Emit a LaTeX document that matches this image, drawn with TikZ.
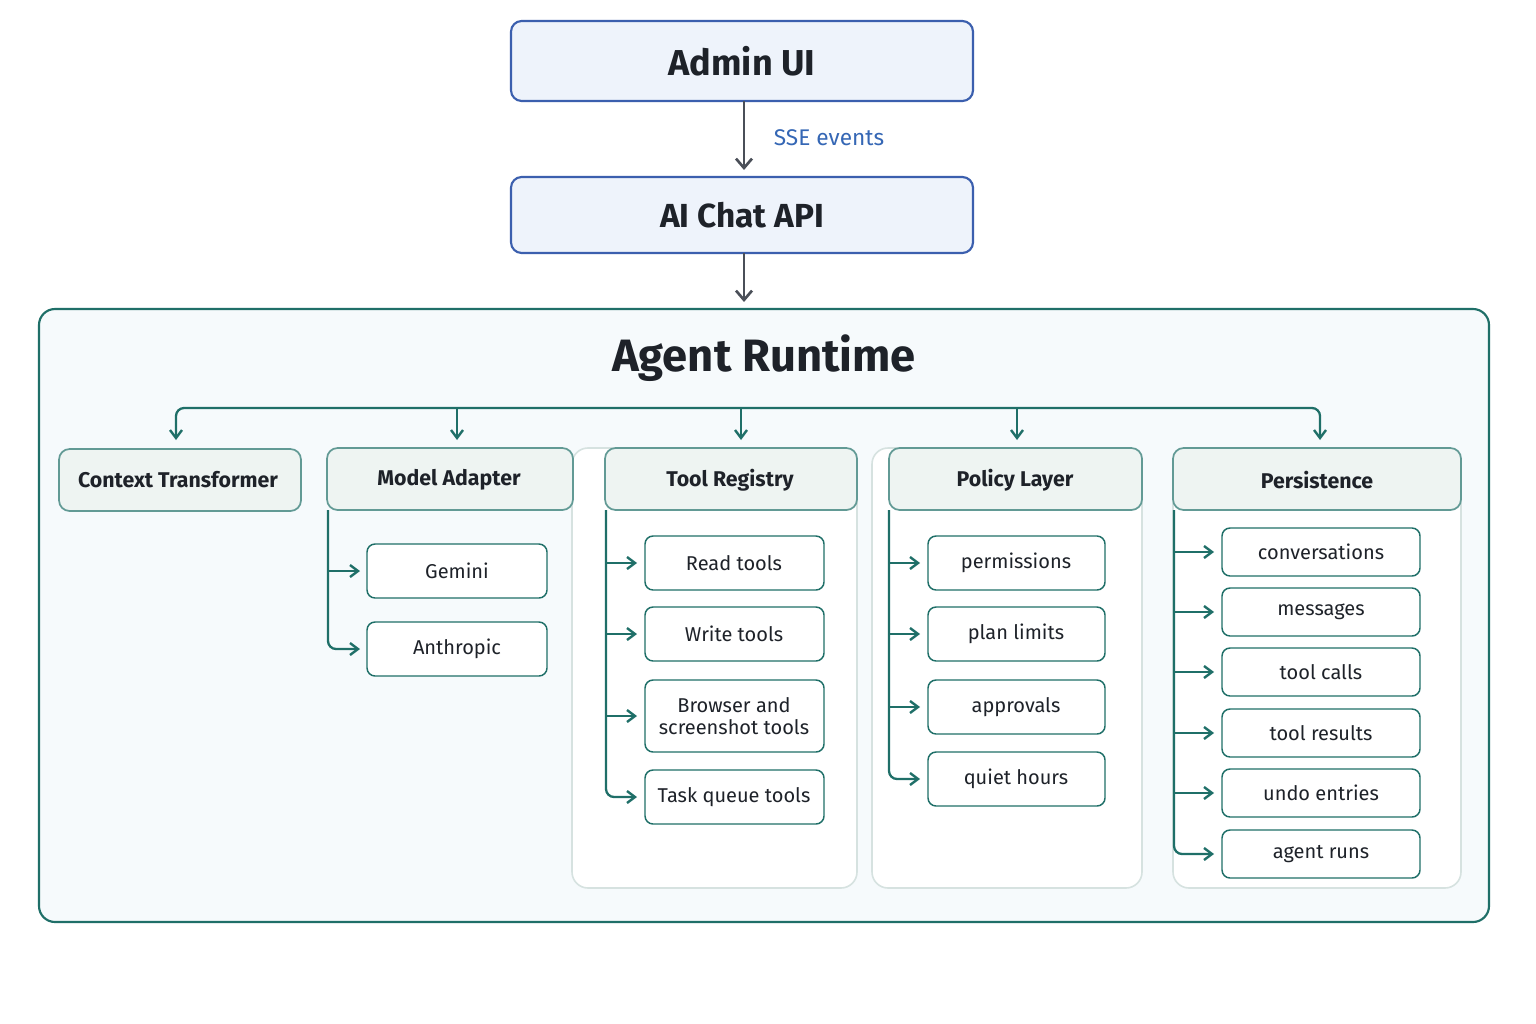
\documentclass[tikz,border=0pt]{standalone}
\usepackage{fontspec}
\setmainfont{Fira Sans}
\usetikzlibrary{arrows.meta}
\definecolor{teal}{HTML}{1F6F68}
\definecolor{hdr}{HTML}{EEF4F2}
\definecolor{outerfill}{HTML}{F6FAFC}
\definecolor{topfill}{HTML}{EEF3FB}
\definecolor{topline}{HTML}{3B5FAE}
\definecolor{darkarrow}{HTML}{4A4F58}
\definecolor{sse}{HTML}{3567B5}
\definecolor{panel}{HTML}{D6E2E0}
\definecolor{ink}{HTML}{1E2229}
\begin{document}
\begin{tikzpicture}[x=0.75pt,y=-0.75pt,
  topbox/.style={draw=topline,line width=1.6pt,fill=topfill,rounded corners=8pt},
  hbox/.style={draw=teal!70,line width=1.3pt,fill=hdr,rounded corners=8pt},
  item/.style={draw=teal,line width=1.1pt,fill=white,rounded corners=6pt},
  panelbox/.style={draw=panel,line width=1.2pt,fill=white,rounded corners=12pt},
  tip/.style={-{Straight Barb[length=6pt,width=9pt,line width=1.8pt]}},
  tarr/.style={draw=teal,line width=1.7pt,tip},
  darr/.style={draw=darkarrow,line width=1.8pt,-{Straight Barb[length=7pt,width=12pt,line width=2pt]}},
  tline/.style={draw=teal,line width=1.7pt,rounded corners=6pt,tip},
  itxt/.style={font=\fontsize{15}{17}\selectfont,text=ink,align=center},
  htxt/.style={font=\fontsize{16}{18}\selectfont\bfseries,text=ink}]
\useasboundingbox (0,0) rectangle (1536,1024);
\fill[white] (0,0) rectangle (1536,1024);
% top boxes
\draw[topbox] (511,21) rectangle (973,101);
\node[font=\fontsize{27}{30}\selectfont\bfseries,text=ink] (admin) at (742,61) {Admin UI};
\draw[topbox] (511,177) rectangle (973,253);
\node[font=\fontsize{25}{28}\selectfont\bfseries,text=ink] (api) at (742,215) {AI Chat API};
\coordinate (a1) at (744,101); \coordinate (a2) at (744,170);
\draw[darr] (a1) -- (a2);
\node[font=\fontsize{17}{19}\selectfont,text=sse] (sselbl) at (829,138) {SSE events};
\coordinate (b1) at (744,253); \coordinate (b2) at (744,302);
\draw[darr] (b1) -- (b2);
% outer
\draw[draw=teal,line width=1.6pt,fill=outerfill,rounded corners=12pt] (39,309) rectangle (1489,922);
\node[font=\fontsize{34}{38}\selectfont\bfseries,text=ink] (title) at (764,358) {Agent Runtime};
% panels
\draw[panelbox] (572,448) rectangle (857,888);
\draw[panelbox] (872,448) rectangle (1142,888);
\draw[panelbox] (1173,448) rectangle (1461,888);
% bus
\draw[draw=teal,line width=1.7pt,rounded corners=6pt,{Straight Barb[length=6pt,width=9pt,line width=1.8pt]}-{Straight Barb[length=6pt,width=9pt,line width=1.8pt]}] (176,440) -- (176,408) -- (1320,408) -- (1320,440);
\foreach \x in {457,741,1017}{\coordinate (d\x) at (\x,408);\coordinate (e\x) at (\x,440);\draw[tarr] (d\x) -- (e\x);}
% headers
\draw[hbox] (59,449) rectangle (301,511);
\node[htxt] (ctx) at (178,480) {Context Transformer};
\draw[hbox] (327,448) rectangle (573,510);
\node[htxt] (ma) at (449,480) {Model Adapter};
\draw[hbox] (605,448) rectangle (857,510);
\node[htxt] (tr) at (730,480) {Tool Registry};
\draw[hbox] (889,448) rectangle (1142,510);
\node[htxt] (pl) at (1015,480) {Policy Layer};
\draw[hbox] (1173,448) rectangle (1461,510);
\node[htxt] (ps) at (1317,480) {Persistence};
% Model adapter
\foreach \y/\t/\n in {571/Gemini/g,649/Anthropic/an}{
  \draw[item] (367,\y-27) rectangle (547,\y+27);
  \node[itxt] (\n) at (457,\y) {\t};}
\coordinate (ma0) at (328,510); \coordinate (ma1) at (328,571);
\draw[tline] (ma0) -- (328,649) -- (360,649);
\draw[tarr] (ma1) -- (360,571);
% Tool registry
\foreach \y/\h/\t/\n in {563/27/Read tools/r,634/27/Write tools/w,716/36/{Browser and\\screenshot tools}/b,797/27/Task queue tools/tq}{
  \draw[item] (645,\y-\h) rectangle (824,\y+\h);
  \node[itxt] (\n) at (734,\y) {\t};}
\coordinate (tr0) at (606,510);
\draw[tline] (tr0) -- (606,797) -- (637,797);
\foreach \y in {563,634,716}{\coordinate (t\y) at (606,\y); \draw[tarr] (t\y) -- (637,\y);}
% Policy
\foreach \y/\t/\n in {563/permissions/p1,634/plan limits/p2,707/approvals/p3,779/quiet hours/p4}{
  \draw[item] (928,\y-27) rectangle (1105,\y+27);
  \node[itxt] (\n) at (1016,\y) {\t};}
\coordinate (pl0) at (889,510);
\draw[tline] (pl0) -- (889,779) -- (920,779);
\foreach \y in {563,634,707}{\coordinate (p\y) at (889,\y); \draw[tarr] (p\y) -- (920,\y);}
% Persistence
\foreach \y/\t/\n in {552/conversations/q1,612/messages/q2,672/tool calls/q3,733/tool results/q4,793/undo entries/q5,854/agent runs/q6}{
  \draw[item] (1222,\y-24) rectangle (1420,\y+24);
  \node[itxt] (\n) at (1321,\y) {\t};}
\coordinate (ps0) at (1174,510);
\draw[tline] (ps0) -- (1174,854) -- (1214,854);
\foreach \y in {552,612,672,733,793}{\coordinate (q\y) at (1174,\y); \draw[tarr] (q\y) -- (1214,\y);}
\end{tikzpicture}
\end{document}
